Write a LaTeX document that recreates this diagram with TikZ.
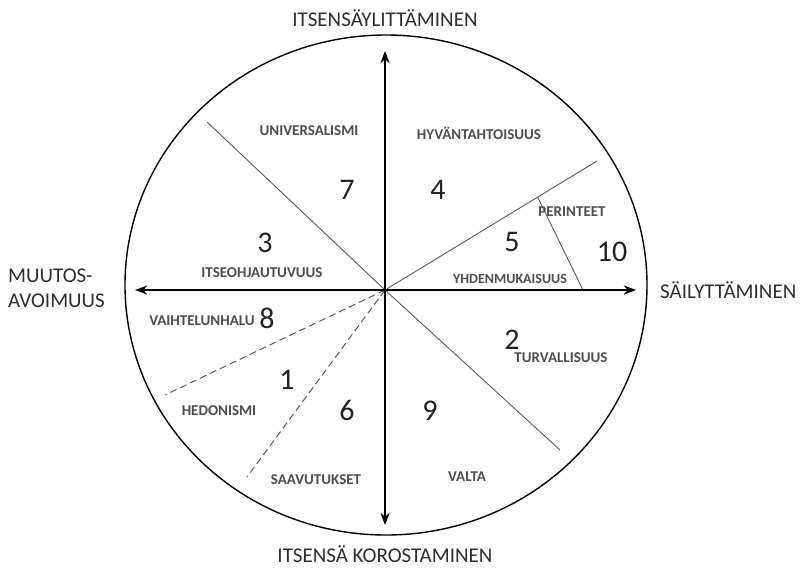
\documentclass[tikz,border=0pt]{standalone}
\usepackage{fontspec}
\setmainfont{Carlito}
\usetikzlibrary{arrows.meta, positioning, calc}
\definecolor{valink}{HTML}{222222}
\definecolor{valgray}{HTML}{4d4d4d}
\definecolor{valline}{HTML}{5a5a5a}
\definecolor{poleink}{HTML}{2e2e2e}

\begin{document}
\begin{tikzpicture}[
    x=1pt, y=-1pt,
    pole/.style={text=poleink, font=\fontsize{21}{25}\selectfont, inner sep=0pt},
    value/.style={text=valgray, font=\fontsize{15}{17}\selectfont\bfseries, inner sep=0pt},
    num/.style={text=valink, font=\fontsize{30}{32}\selectfont, inner sep=0pt},
    axis/.style={{Stealth[scale=1.2]}-{Stealth[scale=1.2]}, line width=1.6pt},
    border/.style={line width=1.4pt},
    divider/.style={valline, line width=0.9pt},
    softdiv/.style={valline, line width=1pt, dash pattern=on 7pt off 4pt}
]
\useasboundingbox (0,0) rectangle (801,574);

% Circle and centre
\coordinate (c) at (385,290);
\draw[border] (386,285) ellipse [x radius=261pt, y radius=250pt];

% Axis ends
\coordinate (n_end) at (385,51);
\coordinate (s_end) at (385,525);
\coordinate (w_end) at (135,290);
\coordinate (e_end) at (636,290);

% Sector ends
\coordinate (nw_end) at (207,122);
\coordinate (se_end) at (560,450);
\coordinate (ne_end) at (597,161);
\coordinate (ten_top) at ($(c)!0.72!(ne_end)$);
\coordinate (ten_bot) at (583,290);
\coordinate (hed_w) at (165,395);
\coordinate (hed_s) at (247,477);

% Dividers
\draw[divider] (c) -- (nw_end);
\draw[divider] (c) -- (se_end);
\draw[divider] (c) -- (ne_end);
\draw[divider] (ten_top) -- (ten_bot);
\draw[softdiv] (c) -- (hed_w);
\draw[softdiv] (c) -- (hed_s);

% Axes
\draw[axis] (s_end) -- (n_end);
\draw[axis] (w_end) -- (e_end);

% Poles
\node[pole, above=24pt of n_end] (top_pole) {ITSENSÄYLITTÄMINEN};
\node[pole, below=20pt of s_end] (bot_pole) {ITSENSÄ KOROSTAMINEN};
\node[pole, align=left, anchor=west] (left_pole) at (8,288) {MUUTOS-\\AVOIMUUS};
\node[pole, right=24pt of e_end] (right_pole) {SÄILYTTÄMINEN};

% Upper half
\node[value] (universalism) at (309,131) {UNIVERSALISMI};
\node[num] (n7) at (347,190) {7};
\node[value] (benevolence) at (479,133) {HYVÄNTAHTOISUUS};
\node[num] (n4) at (438,190) {4};
\node[num] (n3) at (265,243) {3};
\node[value] (selfdir) at (262,273) {ITSEOHJAUTUVUUS};
\node[num] (n5) at (512,242) {5};
\node[value, font=\fontsize{14}{16}\selectfont\bfseries] (conformity) at (510,279) {YHDENMUKAISUUS};
\node[value] (tradition) at (572,212) {PERINTEET};
\node[num] (n10) at (612,252) {10};

% Lower half
\node[value] (stimulation) at (202,321) {VAIHTELUNHALU};
\node[num] (n8) at (267,318) {8};
\node[num] (n1) at (287,380) {1};
\node[value] (hedonism) at (219,411) {HEDONISMI};
\node[num] (n6) at (347,410) {6};
\node[value] (achievement) at (316,480) {SAAVUTUKSET};
\node[num] (n9) at (430,411) {9};
\node[value] (power) at (467,477) {VALTA};
\node[num] (n2) at (512,340) {2};
\node[value] (security) at (561,358) {TURVALLISUUS};
\end{tikzpicture}
\end{document}
